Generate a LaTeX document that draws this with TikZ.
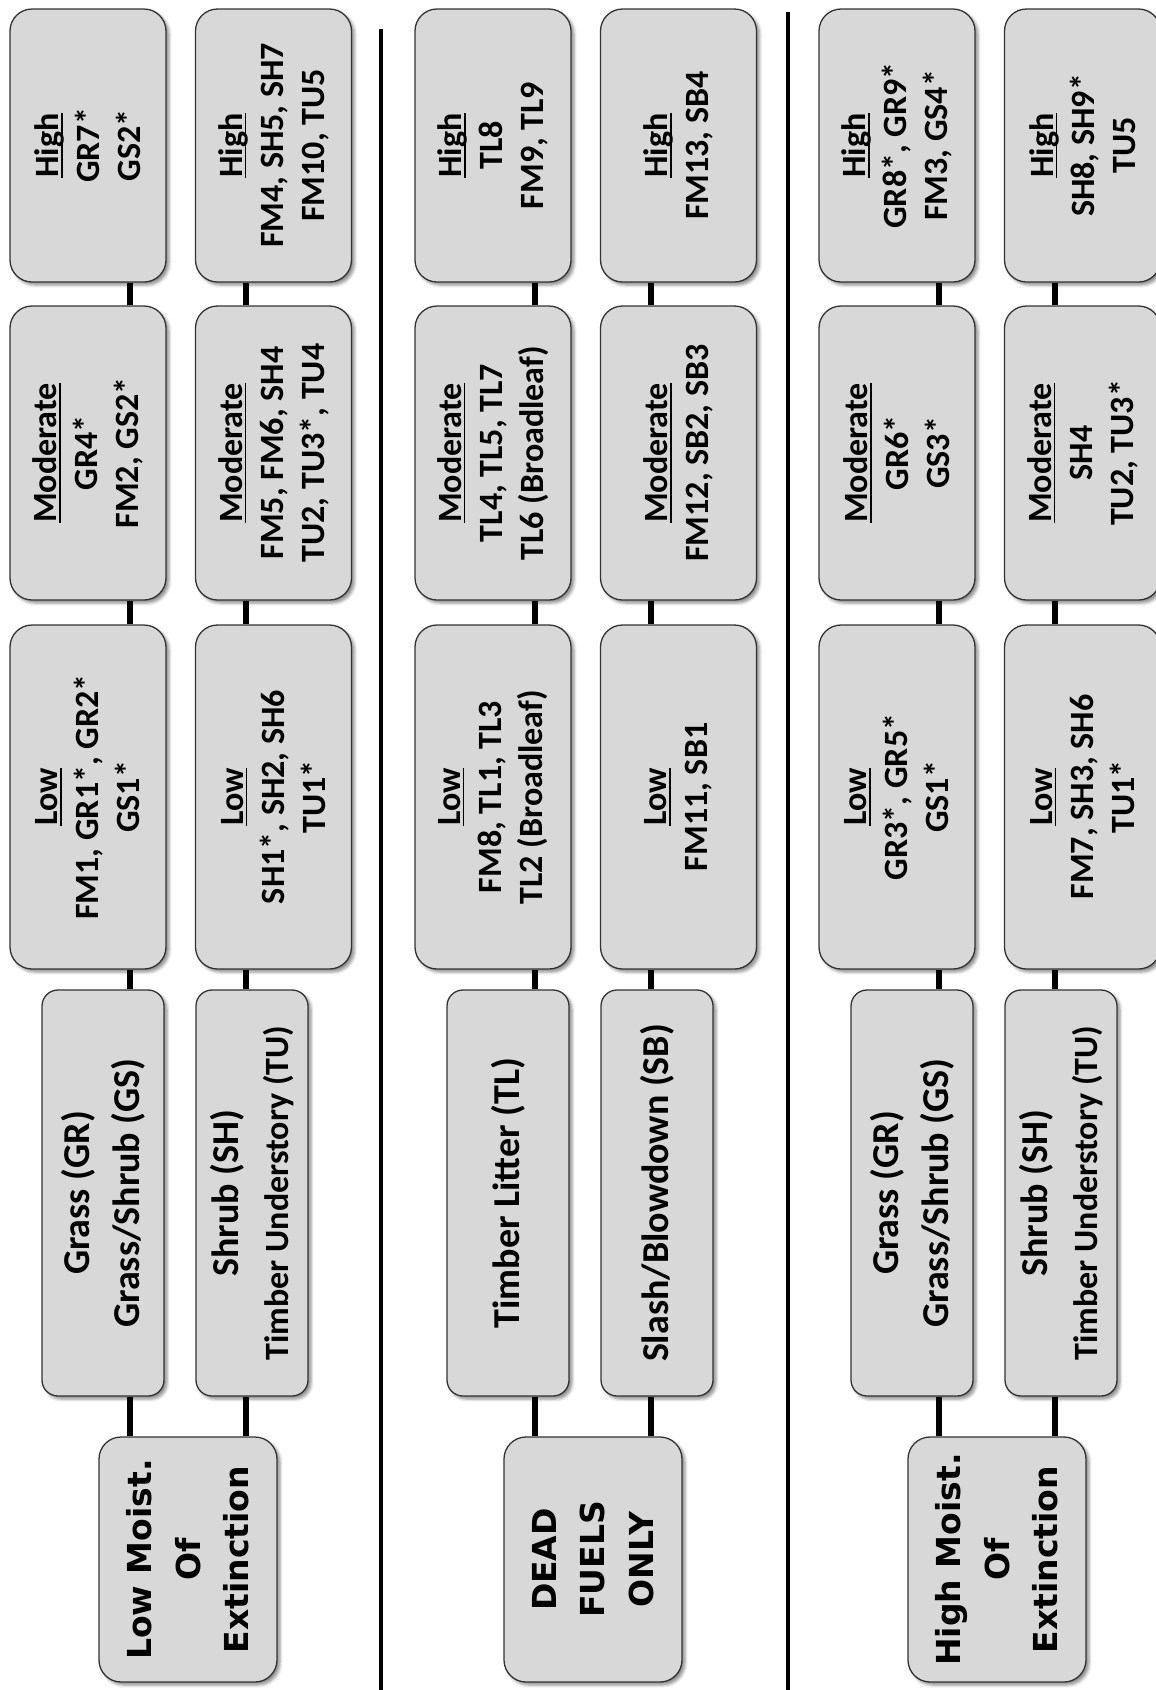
\documentclass[tikz,border=0pt]{standalone}
\usepackage{fontspec}
\setmainfont{Carlito}
\newfontfamily\rootfont{DejaVu Sans}
\usetikzlibrary{shadows.blur}
\definecolor{boxfill}{HTML}{D8D8D8}
\definecolor{boxline}{HTML}{333333}
% underlined level name, rule at a fixed depth
\newcommand{\levelname}[1]{\setbox0\hbox{#1}\rlap{\rule[-4pt]{\wd0}{1.6pt}}\box0}

\begin{document}
\begin{tikzpicture}[x=1pt,y=1pt,
  card/.style={draw=boxline,line width=1.3pt,fill=boxfill,rotate=90,align=center,inner sep=0pt,
               blur shadow={shadow xshift=3pt,shadow yshift=-3pt,shadow blur radius=3pt,shadow opacity=45}},
  level/.style={card,rounded corners=22pt,minimum height=156pt,font=\bfseries\fontsize{34}{41}\selectfont},
  hibox/.style={level,minimum width=273pt},
  modbox/.style={level,minimum width=294pt},
  lobox/.style={level,minimum width=344pt},
  group/.style={card,rounded corners=16pt,minimum width=406pt,font=\bfseries\fontsize{38}{50}\selectfont},
  moist/.style={card,rounded corners=22pt,minimum width=245pt,minimum height=178pt,
                font=\rootfont\bfseries\fontsize{33}{48.5}\selectfont},
  link/.style={line width=6pt,black},
  divider/.style={line width=4pt,black}
]
\useasboundingbox (0,0) rectangle (1156,-1690);

% low moisture of extinction
\node[moist] (root1) at (188,-1559.5) {Low Moist.\\Of\\Extinction};
\node[group,minimum height=122pt] (cat1g) at (103,-1193) {Grass (GR)\\Grass/Shrub (GS)};
\node[group,minimum height=112pt] (cat1s) at (252,-1193) {Shrub (SH)\\{\fontsize{34}{41}\selectfont Timber Understory (TU)}};
\node[lobox] (low1g) at (88,-797) {\levelname{Low}\\FM1, GR1*, GR2*\\GS1*};
\node[lobox] (low1s) at (273.5,-797) {\levelname{Low}\\SH1*, SH2, SH6\\TU1*};
\node[modbox] (mod1g) at (88,-453) {\levelname{Moderate}\\GR4*\\FM2, GS2*};
\node[modbox] (mod1s) at (273.5,-453) {\levelname{Moderate}\\FM5, FM6, SH4\\TU2, TU3*, TU4};
\node[hibox] (high1g) at (88,-145.5) {\levelname{High}\\GR7*\\GS2*};
\node[hibox] (high1s) at (273.5,-145.5) {\levelname{High}\\FM4, SH5, SH7\\FM10, TU5};

% dead fuels only
\node[moist] (root2) at (593,-1559.5) {DEAD\\FUELS\\ONLY};
\node[group,minimum height=122pt] (cat2g) at (508,-1193) {Timber Litter (TL)};
\node[group,minimum height=112pt] (cat2s) at (657,-1193) {Slash/Blowdown (SB)};
\node[lobox] (low2g) at (493,-797) {\levelname{Low}\\FM8, TL1, TL3\\TL2 (Broadleaf)};
\node[lobox] (low2s) at (678.5,-797) {\levelname{Low}\\FM11, SB1};
\node[modbox] (mod2g) at (493,-453) {\levelname{Moderate}\\TL4, TL5, TL7\\TL6 (Broadleaf)};
\node[modbox] (mod2s) at (678.5,-453) {\levelname{Moderate}\\FM12, SB2, SB3};
\node[hibox] (high2g) at (493,-145.5) {\levelname{High}\\TL8\\FM9, TL9};
\node[hibox] (high2s) at (678.5,-145.5) {\levelname{High}\\FM13, SB4};

% high moisture of extinction
\node[moist] (root3) at (997,-1559.5) {High Moist.\\Of\\Extinction};
\node[group,minimum height=122pt] (cat3g) at (912,-1193) {Grass (GR)\\Grass/Shrub (GS)};
\node[group,minimum height=112pt] (cat3s) at (1061,-1193) {Shrub (SH)\\{\fontsize{34}{41}\selectfont Timber Understory (TU)}};
\node[lobox] (low3g) at (897,-797) {\levelname{Low}\\GR3*, GR5*\\GS1*};
\node[lobox] (low3s) at (1082.5,-797) {\levelname{Low}\\FM7, SH3, SH6\\TU1*};
\node[modbox] (mod3g) at (897,-453) {\levelname{Moderate}\\GR6*\\GS3*};
\node[modbox] (mod3s) at (1082.5,-453) {\levelname{Moderate}\\SH4\\TU2, TU3*};
\node[hibox] (high3g) at (897,-145.5) {\levelname{High}\\GR8*, GR9*\\FM3, GS4*};
\node[hibox] (high3s) at (1082.5,-145.5) {\levelname{High}\\SH8, SH9*\\TU5};

% connector tracks
\coordinate (x1g) at (130,0);  \coordinate (x1s) at (246,0);
\coordinate (x2g) at (535,0);  \coordinate (x2s) at (651,0);
\coordinate (x3g) at (939,0);  \coordinate (x3s) at (1055,0);
\foreach \b in {1,2,3}{
  \foreach \r in {g,s}{
    \draw[link] (root\b.east -| x\b\r) -- (cat\b\r.west -| x\b\r)
                (cat\b\r.east -| x\b\r) -- (low\b\r.west -| x\b\r)
                (low\b\r.east -| x\b\r) -- (mod\b\r.west -| x\b\r)
                (mod\b\r.east -| x\b\r) -- (high\b\r.west -| x\b\r);
  }
}

\draw[divider] (381,-29) -- (381,-1695);
\draw[divider] (788,-12) -- (788,-1695);
\end{tikzpicture}
\end{document}
